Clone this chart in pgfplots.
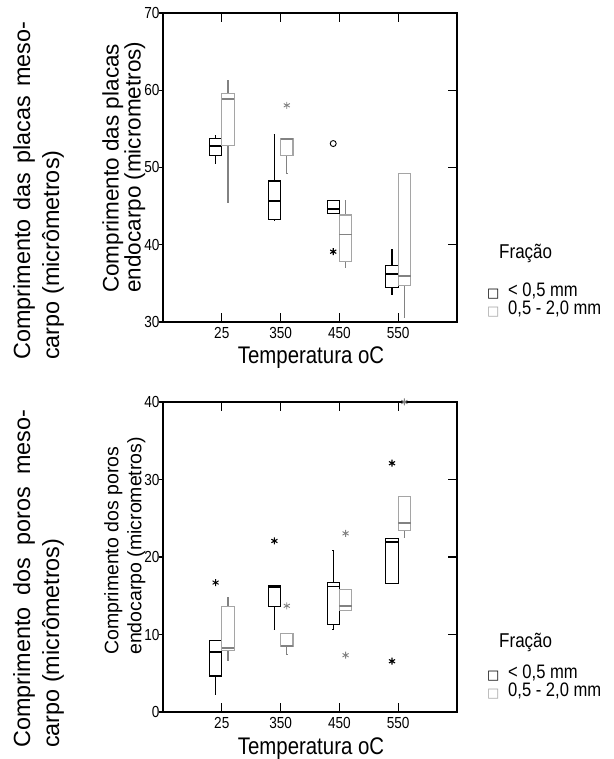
\documentclass[border=0pt]{standalone}
\usepackage{fontspec}
\setmainfont{Liberation Sans}[FakeStretch=0.85]
\newfontfamily\wide{Liberation Sans}
\newfontfamily\dejavu{DejaVu Sans}
\usepackage{pgfplots}
\pgfplotsset{compat=1.18}
\usepgfplotslibrary{statistics}
\definecolor{gbox}{RGB}{165,165,165}
\definecolor{gline}{RGB}{130,130,130}

\pgfplotsset{
 myaxis/.style={
  scale only axis, width=294pt, anchor=south west,
  xmin=0, xmax=5, xtick={1,2,3,4}, xticklabels={25,350,450,550},
  tick align=inside, xtick pos=both, ytick pos=right, yticklabel pos=left,
  major tick length=9pt,
  axis line style={line width=2pt},
  tick style={black, line width=1.2pt},
  tick label style={font=\fontsize{16}{16}\selectfont},
  xticklabel style={yshift=-2pt},
  /pgf/number format/assume math mode=true,
  boxplot/draw direction=y,
  clip=false,
 },
 lefttick/.style={
  scale only axis, width=294pt, anchor=south west,
  xmin=0, xmax=5, hide x axis, axis y line*=left,
  y axis line style={draw=none}, yticklabels={},
  tick align=outside, major tick length=4pt,
  tick style={black, line width=1.2pt},
 }
}
% black box: pos, lw, lq, med, uq, uw
\newcommand{\bbox}[6]{\addplot[black, solid, line width=1.1pt, boxplot prepared={draw position=#1, lower whisker=#2, lower quartile=#3, median=#4, upper quartile=#5, upper whisker=#6, box extend=0.21, whisker extend=0.025, every median/.style={line width=1.8pt}}] coordinates {};}
\newcommand{\gbox}[6]{\addplot[gline, solid, line width=1.1pt, boxplot prepared={draw position=#1, lower whisker=#2, lower quartile=#3, median=#4, upper quartile=#5, upper whisker=#6, box extend=0.21, whisker extend=0.025, every box/.style={draw=gbox}, every median/.style={line width=1.6pt, draw=gline}}] coordinates {};}

\begin{document}
\begin{tikzpicture}[x=1pt,y=1pt]
\path[use as bounding box] (0pt,0pt) rectangle (613pt,759pt);

% ---------- top chart ----------
\begin{axis}[lefttick, at={(163pt,437pt)}, height=309pt, ymin=30, ymax=70, ytick={30,40,50,60,70}]
\addplot[draw=none] coordinates {(1,50)};
\end{axis}
\begin{axis}[myaxis, at={(163pt,437pt)}, height=309pt, ymin=30, ymax=70, ytick={30,40,50,60,70}]
\bbox{0.895}{50.5}{51.5}{52.8}{53.8}{54.1}
\gbox{1.105}{45.5}{52.9}{58.9}{59.6}{61.3}
\bbox{1.895}{43.2}{43.3}{45.7}{48.25}{54.2}
\gbox{2.105}{49.2}{51.5}{53.7}{53.8}{53.8}
\bbox{2.895}{44.0}{44.0}{44.6}{45.75}{45.75}
\gbox{3.105}{37.1}{37.8}{41.3}{43.85}{45.75}
\bbox{3.895}{33.6}{34.5}{36.2}{37.35}{39.4}
\gbox{4.105}{30.6}{34.7}{35.95}{49.2}{49.2}
\addplot[only marks, mark=asterisk, mark size=3.5pt, gline, line width=0.9pt] coordinates {(2.105,58.05)};
\addplot[only marks, mark=asterisk, mark size=3.5pt, black, line width=1.1pt] coordinates {(2.895,39.1)};
\addplot[only marks, mark=o, mark size=3pt, black, line width=0.9pt] coordinates {(2.895,53.1)};
\end{axis}

% ---------- bottom chart ----------
\begin{axis}[lefttick, at={(163pt,47pt)}, height=310pt, ymin=0, ymax=40, ytick={0,10,20,30,40}]
\addplot[draw=none] coordinates {(1,20)};
\end{axis}
\begin{axis}[myaxis, at={(163pt,47pt)}, height=310pt, ymin=0, ymax=40, ytick={0,10,20,30,40}]
\bbox{0.895}{2.25}{4.65}{7.76}{9.2}{9.2}
\gbox{1.105}{6.6}{7.9}{8.27}{13.6}{14.8}
\bbox{1.895}{10.65}{13.6}{16.1}{16.3}{16.3}
\gbox{2.105}{7.4}{8.5}{8.55}{10.1}{10.1}
\bbox{2.895}{10.65}{11.3}{16.2}{16.7}{20.8}
\gbox{3.105}{13.1}{13.1}{13.7}{15.8}{15.8}
\bbox{3.895}{16.6}{16.6}{21.9}{22.4}{22.4}
\gbox{4.105}{22.5}{23.4}{24.4}{27.8}{27.8}
\addplot[only marks, mark=asterisk, mark size=3.5pt, black, line width=0.9pt] coordinates {(0.895,16.7)};
\addplot[only marks, mark=asterisk, mark size=3.5pt, black, line width=1.1pt] coordinates {(1.895,22.07) (3.895,32.1) (3.895,6.55)};
\addplot[only marks, mark=asterisk, mark size=3.5pt, gline, line width=0.9pt] coordinates {(2.105,13.7) (3.105,23.05) (3.105,7.33) (4.105,40.0)};
\end{axis}

% ---------- x labels ----------
\node[anchor=base, inner sep=0pt, font=\fontsize{24}{24}\selectfont] at (311pt,395pt) {Temperatura oC};
\node[anchor=base, inner sep=0pt, font=\fontsize{24}{24}\selectfont] at (311pt,5pt) {Temperatura oC};

% ---------- inner y labels ----------
\node[anchor=north west, rotate=90, inner sep=0pt, align=left, font=\wide\fontsize{22.5}{22}\selectfont] at (102pt,466pt) {Comprimento das placas\\endocarpo (micrometros)};
\node[anchor=north west, rotate=90, inner sep=0pt, align=left, font=\wide\fontsize{19.5}{23}\selectfont] at (104pt,104pt) {Comprimento dos poros\\endocarpo (micrometros)};

% ---------- outer y labels ----------
\node[anchor=north west, rotate=90, inner sep=0pt, align=left, font=\wide\fontsize{23.4}{29}\selectfont] at (13pt,399pt) {\makebox[338pt][s]{Comprimento das placas meso-}\\carpo (micrômetros)};
\node[anchor=north west, rotate=90, inner sep=0pt, align=left, font=\wide\fontsize{23.4}{29}\selectfont] at (13pt,11pt) {\makebox[338pt][s]{Comprimento dos poros meso-}\\carpo (micrômetros)};

% ---------- legends ----------
\node[anchor=base west, inner sep=0pt, font=\fontsize{20}{20}\selectfont] at (499pt,500pt) {Fração};
\node[anchor=base west, inner sep=0pt, font=\dejavu\fontsize{13}{13}\selectfont] at (487pt,461pt) {□};
\node[anchor=base west, inner sep=0pt, font=\fontsize{19.5}{19.5}\selectfont] at (508pt,462pt) {< 0,5 mm};
\node[anchor=base west, inner sep=0pt, font=\dejavu\fontsize{13}{13}\selectfont, text=gbox] at (487pt,443pt) {□};
\node[anchor=base west, inner sep=0pt, font=\fontsize{19.5}{19.5}\selectfont] at (508pt,444pt) {0,5 - 2,0 mm};

\node[anchor=base west, inner sep=0pt, font=\fontsize{20}{20}\selectfont] at (499pt,111pt) {Fração};
\node[anchor=base west, inner sep=0pt, font=\dejavu\fontsize{13}{13}\selectfont] at (487pt,79pt) {□};
\node[anchor=base west, inner sep=0pt, font=\fontsize{19.5}{19.5}\selectfont] at (508pt,80pt) {< 0,5 mm};
\node[anchor=base west, inner sep=0pt, font=\dejavu\fontsize{13}{13}\selectfont, text=gbox] at (487pt,61pt) {□};
\node[anchor=base west, inner sep=0pt, font=\fontsize{19.5}{19.5}\selectfont] at (508pt,62pt) {0,5 - 2,0 mm};
\end{tikzpicture}
\end{document}
